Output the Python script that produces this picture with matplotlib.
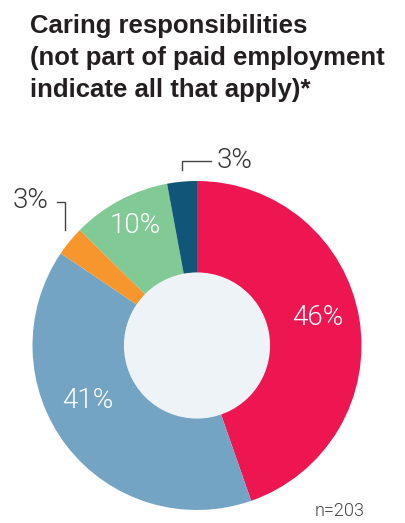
import matplotlib
matplotlib.use("Agg")
import matplotlib.pyplot as plt
import numpy as np

# Caring responsibilities survey, share of respondents
shares = [46, 41, 3, 10, 3]
share_labels = ["46%", "41%", "3%", "10%", "3%"]
colours = ["#ED1651", "#74A4C3", "#F7962C", "#81C995", "#115679"]
title = "Caring responsibilities\n(not part of paid employment\nindicate all that apply)*"
sample_note = "n=203"

W, H = 406, 523
CX, CY, R = 197, 345.5, 164.5   # donut centre / radius in pixels


def px(x, y):
    # pixel position (from top-left) -> data units of the donut axes
    return (x - CX) / R, (CY - y) / R


fig = plt.figure(figsize=(W / 100, H / 100), dpi=100)
ax = fig.add_axes([0, 0, 1, 1])
ax.axis("off")

wedges, _ = ax.pie(shares, colors=colours, startangle=90, counterclock=False,
                   radius=1.0, wedgeprops=dict(width=1 - 0.44, linewidth=0))
ax.add_patch(plt.Circle((0, 0), 0.44, color="#EEF3F8", zorder=3))
ax.set_xlim(-CX / R, (W - CX) / R)
ax.set_ylim(-(H - CY) / R, CY / R)
ax.set_aspect("auto")

label_font = dict(family=["Roboto", "DejaVu Sans"], fontweight=300, fontsize=20)

# labels inside the larger slices: (angle clockwise from top, radius)
inside = {0: (77.2, 0.755), 1: (243.3, 0.745), 3: (332.6, 0.82)}
for i, (ang, r) in inside.items():
    a = np.radians(ang)
    ax.text(r * np.sin(a), r * np.cos(a), share_labels[i], color="white",
            ha="center", va="center", zorder=4, **label_font)

# small slices get callouts with elbow leaders
lc = "#444444"
x0, y0 = px(182, 170)
x1, y1 = px(182, 161)
x2, y2 = px(211, 161)
ax.plot([x0, x1, x2], [y0, y1, y2], color=lc, lw=1.0, solid_joinstyle="miter")
tx, ty = px(217, 161)
ax.text(tx, ty, share_labels[4], color="#333333", ha="left", va="center", **label_font)

x0, y0 = px(57, 201.5)
x1, y1 = px(65, 201.5)
x2, y2 = px(65, 230)
ax.plot([x0, x1, x2], [y0, y1, y2], color=lc, lw=1.0, solid_joinstyle="miter")
tx, ty = px(49, 201)
ax.text(tx, ty, share_labels[2], color="#333333", ha="right", va="center", **label_font)

tx, ty = px(365, 511)
ax.text(tx, ty, sample_note, color="#444444", ha="right", va="center",
        family=["Roboto", "DejaVu Sans"], fontweight=300, fontsize=13)

fig.text(30 / W, 1 - 14 / H, title, ha="left", va="top", fontsize=18.5,
         fontweight="bold", color="#231F20", family="Liberation Sans",
         linespacing=1.42)

fig.savefig("out.png", dpi=100)
